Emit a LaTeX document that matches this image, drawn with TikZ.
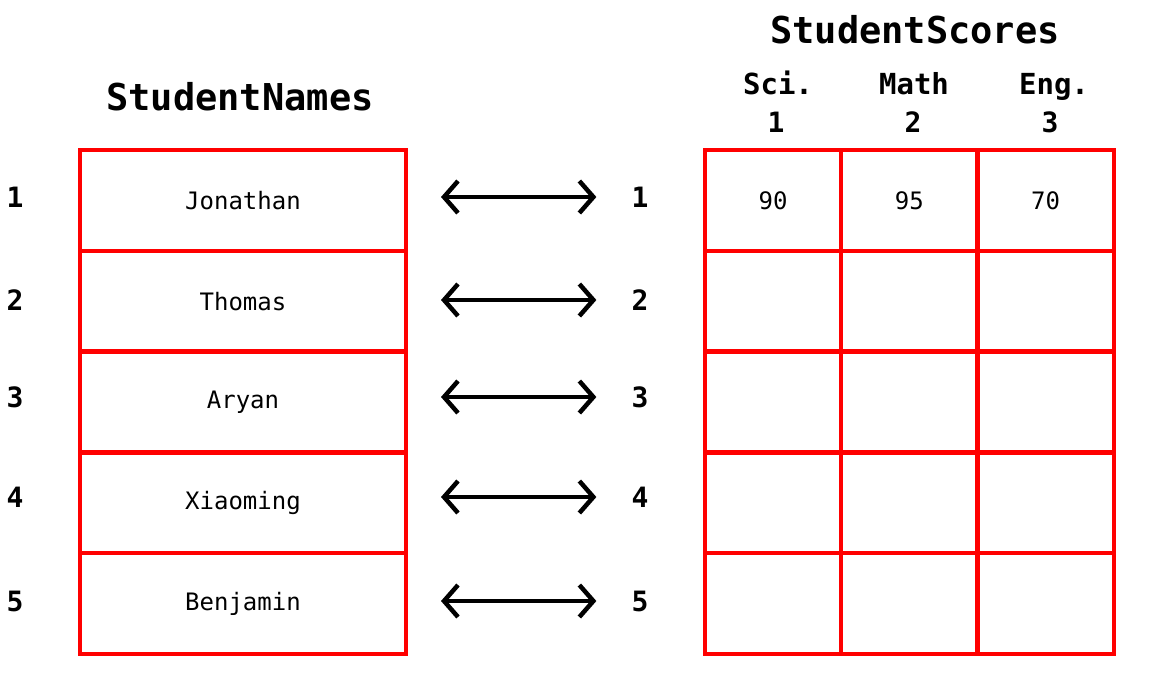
\documentclass[tikz,border=0pt]{standalone}
\usepackage{fontspec}
\setmonofont{DejaVu Sans Mono}
\usetikzlibrary{arrows.meta, positioning}
\tikzstyle{namecell} = [rectangle, draw=red, line width=4.5pt, minimum width=326pt, minimum height=100.8pt, inner sep=0pt, outer sep=0pt, font=\ttfamily\fontsize{24}{28}\selectfont]
\tikzstyle{scorecell} = [namecell, minimum width=136.3pt]
\tikzstyle{idx} = [inner sep=0pt, font=\ttfamily\bfseries\fontsize{28}{32}\selectfont]
\tikzstyle{colhead} = [inner sep=0pt, anchor=base, font=\ttfamily\bfseries\fontsize{29}{32}\selectfont]
\tikzstyle{title} = [inner sep=0pt, anchor=base, font=\ttfamily\bfseries\fontsize{37}{40}\selectfont]
\tikzstyle{arrow} = [line width=4.5pt, {Straight Barb[length=14pt, width=32pt]}-{Straight Barb[length=14pt, width=32pt]}, shorten <=35pt, shorten >=35pt]

\begin{document}
\begin{tikzpicture}[x=1pt, y=1pt]
    \useasboundingbox (0,0) rectangle (1156,-688);

    % Titles
    \node (T1) [title] at (240,-110) {StudentNames};
    \node (T2) [title] at (915,-43) {StudentScores};

    % Column headers
    \node (H1) [colhead] at (778,-94) {Sci.};
    \node (H2) [colhead] at (914,-94) {Math};
    \node (H3) [colhead] at (1054,-94) {Eng.};
    \node (C1) [idx] at (776,-122) {1};
    \node (C2) [idx] at (913,-122) {2};
    \node (C3) [idx] at (1050,-122) {3};

    % Names table
    \node (N1) [namecell] at (243,-200.4) {Jonathan};
    \node (N2) [namecell, below=0pt of N1] {Thomas};
    \node (N3) [namecell, below=0pt of N2] {Aryan};
    \node (N4) [namecell, below=0pt of N3] {Xiaoming};
    \node (N5) [namecell, below=0pt of N4] {Benjamin};

    % Scores table
    \node (S11) [scorecell] at (773,-200.4) {90};
    \node (S12) [scorecell, right=0pt of S11] {95};
    \node (S13) [scorecell, right=0pt of S12] {70};
    \node (S21) [scorecell, below=0pt of S11] {};
    \node (S22) [scorecell, right=0pt of S21] {};
    \node (S23) [scorecell, right=0pt of S22] {};
    \node (S31) [scorecell, below=0pt of S21] {};
    \node (S32) [scorecell, right=0pt of S31] {};
    \node (S33) [scorecell, right=0pt of S32] {};
    \node (S41) [scorecell, below=0pt of S31] {};
    \node (S42) [scorecell, right=0pt of S41] {};
    \node (S43) [scorecell, right=0pt of S42] {};
    \node (S51) [scorecell, below=0pt of S41] {};
    \node (S52) [scorecell, right=0pt of S51] {};
    \node (S53) [scorecell, right=0pt of S52] {};

    % Row indices
    \node (L1) [idx] at (15,-197) {1};
    \node (L2) [idx] at (15,-300) {2};
    \node (L3) [idx] at (15,-397) {3};
    \node (L4) [idx] at (15,-497) {4};
    \node (L5) [idx] at (15,-601) {5};
    \node (R1) [idx] at (640,-197) {1};
    \node (R2) [idx] at (640,-300) {2};
    \node (R3) [idx] at (640,-397) {3};
    \node (R4) [idx] at (640,-497) {4};
    \node (R5) [idx] at (640,-601) {5};

    % Arrows
    \draw [arrow] (R1.west -| N1.east) -- (R1.west);
    \draw [arrow] (R2.west -| N2.east) -- (R2.west);
    \draw [arrow] (R3.west -| N3.east) -- (R3.west);
    \draw [arrow] (R4.west -| N4.east) -- (R4.west);
    \draw [arrow] (R5.west -| N5.east) -- (R5.west);
\end{tikzpicture}
\end{document}
